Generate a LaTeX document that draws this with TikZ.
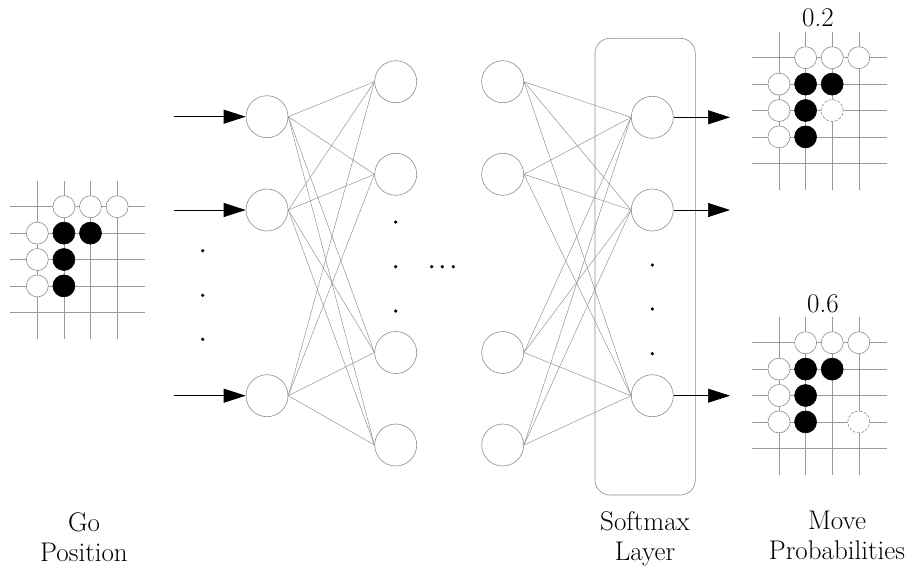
\documentclass[tikz,border=0pt]{standalone}
\usepackage{fontspec}
\setmainfont{Latin Modern Roman}
\usetikzlibrary{arrows.meta}
\begin{document}
\begin{tikzpicture}[x=1pt,y=-1pt,
  neuron/.style={circle,draw=black!45,line width=0.6pt,minimum size=42pt,inner sep=0pt},
  conn/.style={draw=black!45,line width=0.45pt},
  gridline/.style={draw=black!40,line width=0.6pt},
  wstone/.style={circle,draw=black!45,fill=white,line width=0.6pt,minimum size=22pt,inner sep=0pt},
  bstone/.style={circle,fill=black,draw=black,line width=0.6pt,minimum size=22pt,inner sep=0pt},
  dstone/.style={wstone,dash pattern=on 3pt off 1.5pt},
  flowarrow/.style={draw=black,line width=0.7pt,-{Triangle[length=22pt,width=14pt]}},
  lbl/.style={font=\fontsize{27}{30}\selectfont,align=center,inner sep=0pt},
  dotmark/.style={circle,fill=black,minimum size=3.6pt,inner sep=0pt},
  layerbox/.style={draw=black!45,line width=0.6pt,rounded corners=15pt,inner sep=0pt}
]
\useasboundingbox (0,0) rectangle (908,571);

% ---------- Go boards ----------
\newcommand\goboard[3]{% name, x0, y0
  \begin{scope}[shift={(#2,#3)}]
    \foreach \i in {0,...,3}
      \draw[gridline] (\i*26.6,-26) -- (\i*26.6,4*26.4+27);
    \foreach \j in {0,...,4}
      \draw[gridline] (-27,\j*26.4) -- (3*26.6+28,\j*26.4);
    \foreach \c/\r in {1/0,2/0,3/0,0/1,0/2,0/3}
      \node[wstone] (#1w\c\r) at (\c*26.6,\r*26.4) {};
    \foreach \c/\r in {1/1,2/1,1/2,1/3}
      \node[bstone] (#1b\c\r) at (\c*26.6,\r*26.4) {};
  \end{scope}}

\goboard{gp}{37.3}{206.7}
\goboard{pa}{779}{57.7}
\goboard{pb}{779}{342.7}
\node[dstone] (pad) at (779+2*26.6,57.7+2*26.4) {};
\node[dstone] (pbd) at (779+3*26.6,342.7+3*26.4) {};

\node[lbl,anchor=base] (p02) at (818,26.7) {0.2};
\node[lbl,anchor=base] (p06) at (823,312) {0.6};

% ---------- softmax box ----------
\node[layerbox,minimum width=100.3pt,minimum height=456.7pt] (smbox) at (645.15,266.65) {};

% ---------- neurons ----------
\foreach \n/\y in {1/116.7,2/210,3/395.7}
  \node[neuron] (a\n) at (267,\y) {};
\foreach \n/\y in {1/81.7,2/174.3,3/352.5,4/445}
  \node[neuron] (b\n) at (395.7,\y) {};
\foreach \n/\y in {1/81.7,2/174.3,3/352.5,4/445}
  \node[neuron] (c\n) at (502.7,\y) {};
\foreach \n/\y in {1/117.3,2/210,3/395.7}
  \node[neuron] (d\n) at (652.3,\y) {};

% connections
\foreach \i in {1,2,3}
  \foreach \j in {1,2,3,4}
    \draw[conn] (a\i.east) -- (b\j.west);
\foreach \i in {1,2,3,4}
  \foreach \j in {1,2,3}
    \draw[conn] (c\i.east) -- (d\j.west);

% input arrows
\foreach \n/\y in {1/116.7,2/210,3/395.7}{
  \coordinate (in\n) at (174,\y);
  \draw[flowarrow] (in\n) -- (a\n);
}
% output arrows
\foreach \n/\y in {1/117.3,2/210,3/395.7}{
  \coordinate (out\n) at (730,\y);
  \draw[flowarrow] (d\n.east) -- (out\n);
}

% dots
\foreach \y [count=\k] in {250.7,295.3,339.3}
  \node[dotmark] (ld\k) at (202.7,\y) {};
\foreach \y [count=\k] in {222,266.7,311}
  \node[dotmark] (bd\k) at (395.7,\y) {};
\foreach \x [count=\k] in {431.7,442.3,453.3}
  \node[dotmark] (hd\k) at (\x,266.7) {};
\foreach \y [count=\k] in {265,309,353.7}
  \node[dotmark] (dd\k) at (652.3,\y) {};

% labels
\node[lbl,anchor=north] (lgo) at (84,512) {Go\\Position};
\node[lbl,anchor=north] (lsm) at (645,511) {Softmax\\Layer};
\node[lbl,anchor=north] (lmv) at (837,511) {Move\\Probabilities};
\end{tikzpicture}
\end{document}
